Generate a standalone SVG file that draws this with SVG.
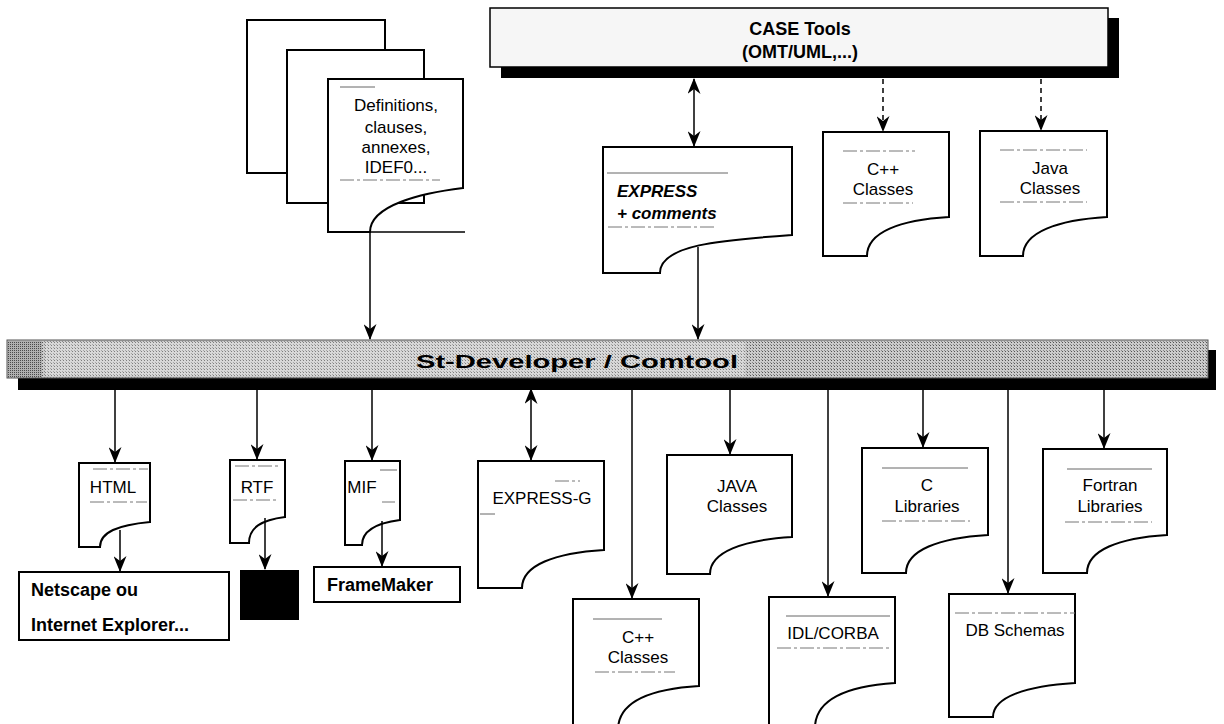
<svg xmlns="http://www.w3.org/2000/svg" width="1224" height="724" viewBox="0 0 1224 724">
<defs>
<marker id="ah" viewBox="0 0 16 13" refX="15" refY="6.5" markerWidth="16" markerHeight="13" markerUnits="userSpaceOnUse" orient="auto-start-reverse">
<path d="M0,0 L16,6.5 L0,13 L5,6.5 Z" fill="#000"/>
</marker>
<pattern id="dots" width="3" height="3" patternUnits="userSpaceOnUse">
<rect width="3" height="3" fill="#cbcbcb"/>
<rect width="1" height="1" fill="#555"/>
<rect x="2" y="2" width="1" height="1" fill="#8a8a8a"/>
</pattern>
<pattern id="dots2" width="2" height="2" patternUnits="userSpaceOnUse">
<rect width="2" height="2" fill="#b0b0b0"/>
<rect width="1" height="1" fill="#4a4a4a"/>
</pattern>
</defs>
<style>
.doc{fill:#fff;stroke:#000;stroke-width:2;stroke-linejoin:miter}
.pg{fill:#fff;stroke:#000;stroke-width:2}
.rule{stroke:#666;stroke-width:1;fill:none}
.dash{stroke:#777;stroke-width:1;stroke-dasharray:14,3,3,3;fill:none}
.t{font-family:"Liberation Sans",Arial,sans-serif;font-size:17px;fill:#000;text-anchor:middle}
.b{font-family:"Liberation Sans",Arial,sans-serif;font-weight:bold;font-size:18px;fill:#000}
.bi{font-family:"Liberation Sans",Arial,sans-serif;font-weight:bold;font-style:italic;font-size:17px;fill:#000}
.c{stroke:#000;stroke-width:1.5;fill:none;marker-end:url(#ah)}
.cd{stroke:#000;stroke-width:1.5;fill:none;marker-end:url(#ah);marker-start:url(#ah)}
.cdash{stroke:#000;stroke-width:1.5;fill:none;stroke-dasharray:5,4;marker-end:url(#ah)}
</style>

<g id="case-tools">
<rect x="501" y="18" width="618" height="60" fill="#000"/>
<rect x="490" y="8" width="618" height="59" fill="#f6f6f6" stroke="#000" stroke-width="1.5"/>
<text class="b" x="800" y="35" text-anchor="middle" font-size="21">CASE Tools</text>
<text class="b" x="800" y="58" text-anchor="middle" font-size="21">(OMT/UML,...)</text>
</g>

<g id="spec-pages">
<rect class="pg" x="247" y="20" width="138" height="153"/>
<rect class="pg" x="287" y="50" width="137" height="153"/>
<path class="doc" d="M328,79 H463 V188 C422,193 370,205 370,232 H328 Z"/>
<line x1="328" y1="232" x2="465" y2="232" stroke="#000" stroke-width="1.5"/>
<line class="rule" x1="340" y1="87" x2="375" y2="87"/>
<line class="dash" x1="340" y1="180" x2="440" y2="180"/>
<text class="t" x="396" y="111">Definitions,</text>
<text class="t" x="396" y="133">clauses,</text>
<text class="t" x="396" y="153">annexes,</text>
<text class="t" x="396" y="173">IDEF0...</text>
</g>

<g id="express">
<path class="doc" d="M603,147 H792 V235 C720,240 660,245 660,273 H603 Z"/>
<line class="rule" x1="607" y1="173" x2="728" y2="173"/>
<line class="dash" x1="608" y1="227" x2="715" y2="227"/>
<text class="bi" x="617" y="197">EXPRESS</text>
<text class="bi" x="617" y="219">+ comments</text>
</g>

<g id="cpp-top">
<path class="doc" d="M823,132 H949 V217 C900,220 867,232 867,256 H823 Z"/>
<line class="dash" x1="843" y1="151" x2="915" y2="151"/>
<line class="dash" x1="843" y1="203" x2="913" y2="203"/>
<text class="t" x="883" y="175">C++</text>
<text class="t" x="883" y="195">Classes</text>
</g>

<g id="java-top">
<path class="doc" d="M980,131 H1107 V217 C1058,220 1023,232 1023,256 H980 Z"/>
<line class="dash" x1="1000" y1="150" x2="1087" y2="150"/>
<line class="dash" x1="1000" y1="202" x2="1087" y2="202"/>
<text class="t" x="1050" y="174">Java</text>
<text class="t" x="1050" y="194">Classes</text>
</g>

<g id="st-developer">
<rect x="18" y="350" width="1198" height="40" fill="#000"/>
<rect x="7" y="340" width="1201" height="38" fill="url(#dots)" stroke="#555" stroke-width="1"/>
<rect x="8" y="341" width="34" height="36" fill="url(#dots2)"/>
<rect x="45" y="342" width="700" height="34" fill="#ffffff" opacity="0.25"/>
<text class="b" x="577" y="368" text-anchor="middle" font-size="23" textLength="322" lengthAdjust="spacingAndGlyphs">St-Developer / Comtool</text>
</g>

<g id="html">
<path class="doc" d="M79,463 H150 V522 C118,525 100,532 100,547 H79 Z"/>
<line class="dash" x1="93" y1="469" x2="148" y2="469"/>
<line class="dash" x1="90" y1="502" x2="147" y2="502"/>
<text class="t" x="113" y="493">HTML</text>
</g>

<g id="rtf">
<path class="doc" d="M230,460 H285 V517 C262,520 249,527 249,543 H230 Z"/>
<line class="dash" x1="235" y1="466" x2="280" y2="466"/>
<line class="dash" x1="233" y1="500" x2="278" y2="500"/>
<text class="t" x="257" y="493">RTF</text>
</g>

<g id="mif">
<path class="doc" d="M345,461 H400 V520 C377,523 362,530 362,545 H345 Z"/>
<line class="rule" x1="380" y1="470" x2="397" y2="470"/>
<line class="dash" x1="382" y1="502" x2="395" y2="502"/>
<text class="t" x="362" y="493">MIF</text>
</g>

<g id="netscape">
<rect x="19" y="572" width="210" height="68" fill="#fff" stroke="#000" stroke-width="2"/>
<text class="b" x="31" y="596">Netscape ou</text>
<text class="b" x="31" y="631">Internet Explorer...</text>
</g>

<g id="rtf-viewer">
<rect x="240" y="570" width="59" height="50" fill="#000"/>
</g>

<g id="framemaker">
<rect x="314" y="567" width="146" height="35" fill="#fff" stroke="#000" stroke-width="2"/>
<text class="b" x="327" y="591">FrameMaker</text>
</g>

<g id="express-g">
<path class="doc" d="M478,461 H604 V550 C555,553 522,565 522,588 H478 Z"/>
<line class="dash" x1="555" y1="481" x2="580" y2="481"/>
<line class="rule" x1="480" y1="514" x2="495" y2="514"/>
<text class="t" x="542" y="504">EXPRESS-G</text>
</g>

<g id="java-classes">
<path class="doc" d="M667,455 H792 V537 C743,540 710,552 710,574 H667 Z"/>
<text class="t" x="737" y="492">JAVA</text>
<text class="t" x="737" y="512">Classes</text>
</g>

<g id="cpp-classes">
<path class="doc" d="M573,599 H699 V686 C650,689 618,702 618,730 H573 Z"/>
<line class="rule" x1="593" y1="619" x2="662" y2="619"/>
<line class="dash" x1="595" y1="672" x2="675" y2="672"/>
<text class="t" x="638" y="643">C++</text>
<text class="t" x="638" y="663">Classes</text>
</g>

<g id="c-libraries">
<path class="doc" d="M862,448 H988 V535 C939,538 906,550 906,573 H862 Z"/>
<line class="rule" x1="882" y1="468" x2="968" y2="468"/>
<line class="dash" x1="882" y1="521" x2="970" y2="521"/>
<text class="t" x="927" y="491">C</text>
<text class="t" x="927" y="512">Libraries</text>
</g>

<g id="idl-corba">
<path class="doc" d="M769,597 H895 V683 C846,686 815,700 815,728 H769 Z"/>
<line class="rule" x1="786" y1="616" x2="890" y2="616"/>
<line class="dash" x1="777" y1="648" x2="890" y2="648"/>
<text class="t" x="833" y="639">IDL/CORBA</text>
</g>

<g id="db-schemas">
<path class="doc" d="M949,594 H1075 V683 C1026,686 993,697 993,717 H949 Z"/>
<line class="dash" x1="955" y1="613" x2="1075" y2="613"/>
<text class="t" x="1015" y="636">DB Schemas</text>
</g>

<g id="fortran-libraries">
<path class="doc" d="M1043,449 H1167 V535 C1119,538 1087,550 1087,573 H1043 Z"/>
<line class="rule" x1="1067" y1="469" x2="1152" y2="469"/>
<line class="dash" x1="1065" y1="522" x2="1152" y2="522"/>
<text class="t" x="1110" y="491">Fortran</text>
<text class="t" x="1110" y="512">Libraries</text>
</g>

<g id="connectors">
<line class="cd" x1="694" y1="79" x2="694" y2="146"/>
<line class="cdash" x1="883" y1="79" x2="883" y2="131"/>
<line class="cdash" x1="1041" y1="79" x2="1041" y2="130"/>
<line class="c" x1="370" y1="233" x2="370" y2="339"/>
<line class="c" x1="698" y1="247" x2="698" y2="339"/>
<line class="c" x1="115" y1="390" x2="115" y2="462"/>
<line class="c" x1="257" y1="390" x2="257" y2="459"/>
<line class="c" x1="372" y1="390" x2="372" y2="460"/>
<line class="cd" x1="531" y1="389" x2="531" y2="460"/>
<line class="c" x1="632" y1="390" x2="632" y2="598"/>
<line class="c" x1="730" y1="390" x2="730" y2="454"/>
<line class="c" x1="828" y1="390" x2="828" y2="596"/>
<line class="c" x1="923" y1="390" x2="923" y2="447"/>
<line class="c" x1="1008" y1="390" x2="1008" y2="593"/>
<line class="c" x1="1104" y1="390" x2="1104" y2="448"/>
<line class="c" x1="120" y1="530" x2="120" y2="571"/>
<line class="c" x1="265" y1="518" x2="265" y2="569"/>
<line class="c" x1="382" y1="521" x2="382" y2="566"/>
</g>
</svg>
